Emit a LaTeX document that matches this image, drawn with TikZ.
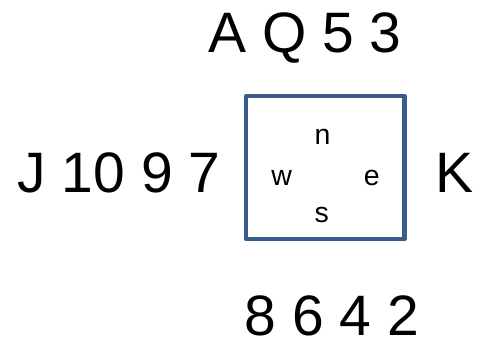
\documentclass[tikz,border=0pt]{standalone}
\usepackage{fontspec}
\setmainfont{Liberation Sans}
\definecolor{tableblue}{HTML}{385D8A}
\begin{document}
\begin{tikzpicture}[x=1pt,y=-1pt,
  hand/.style={inner sep=0pt,anchor=base,font=\fontsize{57}{57}\selectfont},
  seat/.style={inner sep=0pt,anchor=base,font=\fontsize{28.5}{28.5}\selectfont},
  tablebox/.style={draw=tableblue,line width=4.5pt,line join=round,inner sep=0pt,
    minimum width=158.5pt,minimum height=143pt}]
  \useasboundingbox (0,0) rectangle (477,337);
  % the table
  \node[tablebox] (table) at (325.25,167.5) {};
  % compass seats
  \node[seat] (n) at (322.5,144) {n};
  \node[seat] (w) at (281.7,185) {w};
  \node[seat] (e) at (371.7,185) {e};
  \node[seat] (s) at (321.7,222) {s};
  % the four hands
  \node[hand] (north) at (305,53) {A Q 5 3};
  \node[hand] (west) at (119,192) {J 10 9 7};
  \node[hand] (east) at (454.7,192) {K};
  \node[hand] (south) at (332,335) {8 6 4 2};
\end{tikzpicture}
\end{document}
